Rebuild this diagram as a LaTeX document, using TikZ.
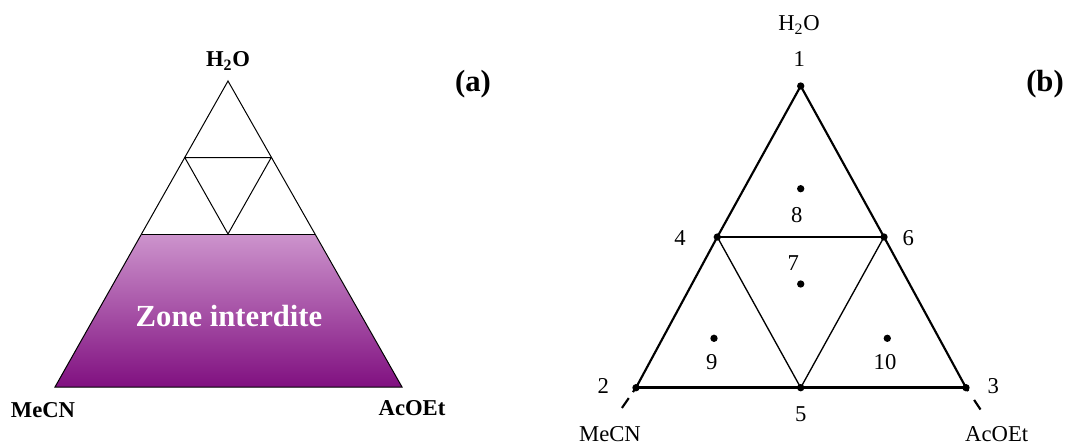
\documentclass[tikz,border=0pt]{standalone}
\usepackage{fontspec}
\setmainfont{Liberation Serif}
\definecolor{zonetop}{RGB}{205,148,205}
\definecolor{zonebot}{RGB}{128,16,128}
\tikzset{
  lbl/.style={inner sep=0pt, font=\fontsize{17}{19}\selectfont},
  blbl/.style={inner sep=0pt, font=\fontsize{17}{19}\selectfont\bfseries},
  panel/.style={inner sep=0pt, font=\fontsize{23}{26}\selectfont\bfseries},
  pt/.style={circle, fill=black, inner sep=0pt, minimum size=5.5pt},
  thinln/.style={line width=0.75pt},
  midln/.style={line width=1pt},
  thickln/.style={line width=1.6pt},
  baseln/.style={line width=2.1pt},
  stubl/.style={line width=1.6pt, dash pattern=on 4pt off 5.5pt on 9pt off 20pt},
  stubr/.style={line width=1.6pt, dash pattern=on 3pt off 8pt on 9pt off 20pt}
}
\begin{document}
\begin{tikzpicture}[x=0.75pt,y=-0.75pt]
\useasboundingbox (0,0) rectangle (1071,446);
% ---------- panel (a) ----------
\coordinate (aT) at (228,81);
\coordinate (aL) at (55,387);
\coordinate (aR) at (402,387);
\coordinate (aML) at (141.5,234);
\coordinate (aMR) at (314.5,234);
\coordinate (aQL) at (184.75,157.5);
\coordinate (aQR) at (271.25,157.5);
\coordinate (aMB) at (228,234);
\shade[top color=zonetop, bottom color=zonebot] (aML) -- (aMR) -- (aR) -- (aL) -- cycle;
\draw[thinln] (aT) -- (aR) -- (aL) -- cycle;
\draw[thinln] (aML) -- (aMR);
\draw[thinln] (aQL) -- (aQR) -- (aMB) -- cycle;
\node[blbl] (aH) at (228,61) {H\textsubscript{2}O};
\node[blbl] (aMe) at (43,410) {MeCN};
\node[blbl] (aAc) at (412,408) {AcOEt};
\node[panel] (pa) at (473,84) {(a)};
\node[inner sep=0pt, text=white, font=\fontsize{23}{26}\selectfont\bfseries] (zone) at (229,316) {Zone interdite};
% ---------- panel (b) ----------
\node[pt] (p1) at (800.7,86) {};
\node[pt] (p2) at (636,387.7) {};
\node[pt] (p3) at (966,387.7) {};
\node[pt] (p4) at (717.3,237) {};
\node[pt] (p5) at (800.7,387.7) {};
\node[pt] (p6) at (884,237) {};
\node[pt] (p7) at (800.7,284) {};
\node[pt] (p8) at (800.7,188.7) {};
\node[pt] (p9) at (714,338.3) {};
\node[pt] (p10) at (887.3,338.3) {};
\draw[thickln] (p1.center) -- (p4.center) -- (p2.center);
\draw[thickln] (p1.center) -- (p6.center) -- (p3.center);
\draw[baseln] (p2.center) -- (p5.center) -- (p3.center);
\draw[midln] (p4.center) -- (p6.center);
\draw[midln] (p4.center) -- (p5.center) -- (p6.center);
\coordinate (s2) at (620.5,410);
\coordinate (s3) at (980.5,409.5);
\draw[stubl] (p2.center) -- (s2);
\draw[stubr] (p3.center) -- (s3);
\node[lbl] (bH) at (799,25) {H\textsubscript{2}O};
\node[lbl] (l1) at (799.3,59) {1};
\node[lbl] (l2) at (603.3,386) {2};
\node[lbl] (l3) at (993.3,386) {3};
\node[lbl] (l4) at (680,238) {4};
\node[lbl] (l5) at (800.7,414) {5};
\node[lbl] (l6) at (908.3,238) {6};
\node[lbl] (l7) at (793.3,263) {7};
\node[lbl] (l8) at (796.7,215) {8};
\node[lbl] (l9) at (711.7,362) {9};
\node[lbl] (l10) at (885,362) {10};
\node[lbl] (bMe) at (610,434) {MeCN};
\node[lbl] (bAc) at (996.7,434) {AcOEt};
\node[panel] (pb) at (1045,84) {(b)};
\end{tikzpicture}
\end{document}
